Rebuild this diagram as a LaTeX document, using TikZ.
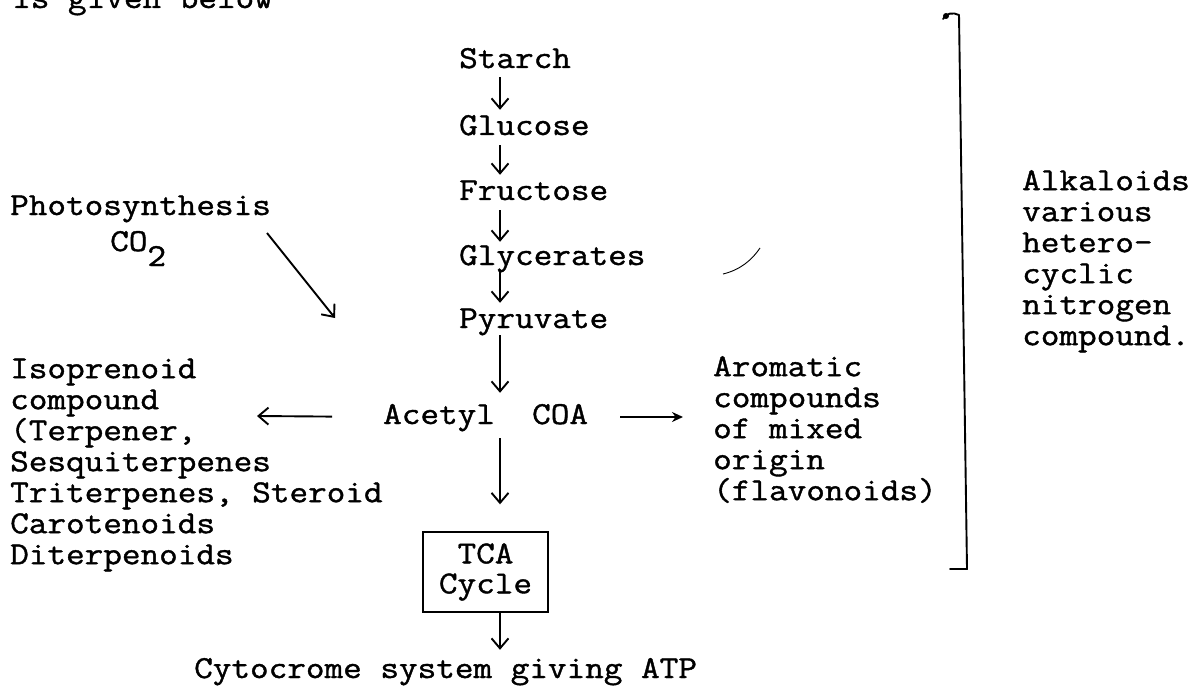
\documentclass[tikz,border=0pt]{standalone}
\usepackage{fontspec}
\setmonofont{Latin Modern Mono}[FakeStretch=1.13, FakeBold=1.2]
\usetikzlibrary{arrows.meta}
\begin{document}
\begin{tikzpicture}[x=1pt,y=-1pt,
  tw/.style={font=\ttfamily\fontsize{32}{31}\selectfont, inner sep=0pt, anchor=base west, text height=20pt, text depth=6pt},
  blk/.style={font=\ttfamily\fontsize{32}{31}\selectfont, inner sep=0pt, align=left, anchor=north west},
  arr/.style={line width=1.9pt, -{Straight Barb[length=10pt,width=17pt,line width=1.9pt]}},
  arrs/.style={line width=1.9pt, -{Stealth[length=11pt,width=10pt]}},
  brk/.style={line width=1.9pt, line cap=round, line join=round},
  box/.style={draw, line width=1.4pt, minimum width=125pt, minimum height=80pt, inner sep=0pt, align=center, font=\ttfamily\fontsize{32}{30}\selectfont}
]
\useasboundingbox (0,0) rectangle (1198,687);
\fill[white] (0,0) rectangle (1198,687);

% clipped heading line at the top
\begin{scope}
  \clip (0,0) rectangle (1198,687);
  \node[tw] (head) at (12,8) {is given below};
\end{scope}

% column for the main chain
\coordinate (col) at (500,0);

\node[tw] (starch) at (459,68) {Starch};
\node[tw] (glucose) at (459,135) {Glucose};
\node[tw] (fructose) at (459,200) {Fructose};
\node[tw] (glycer) at (459,265) {Glycerates};
\node[tw] (pyruv) at (459,328) {Pyruvate};
\node[tw] (acetyl) at (383,424) {Acetyl~~COA};

\node[tw] (photo) at (10,215) {Photosynthesis};
\node[tw] (co2) at (110,251) {CO\raisebox{-15pt}{2}};

\node[blk] (iso) at (10,358) {\rule{0pt}{20pt}Isoprenoid\\compound\\(Terpener,\\Sesquiterpenes\\Triterpenes, Steroid\\Carotenoids\\Diterpenoids};

\node[blk] (arom) at (713,356) {\rule{0pt}{20pt}Aromatic\\compounds\\of mixed\\origin\\(flavonoids)};

\node[blk] (alk) at (1022,170) {\rule{0pt}{20pt}Alkaloids\\various\\hetero-\\cyclic\\nitrogen\\compound.};

\node[box] (tca) at (485.5,572) {TCA\\Cycle};

\node[tw] (cyto) at (194,678) {Cytocrome system giving ATP};

% chain arrows
\draw[arr, shorten <=3pt, shorten >=5pt] (starch.south -| col) -- (glucose.north -| col);
\draw[arr, shorten <=4pt, shorten >=5pt] (glucose.south -| col) -- (fructose.north -| col);
\draw[arr, shorten <=4pt, shorten >=3pt] (fructose.south -| col) -- (glycer.north -| col);
\draw[arr, shorten <=0pt, shorten >=5pt] (glycer.south -| col) -- (pyruv.north -| col);
\draw[arr, shorten <=1pt, shorten >=11pt] (pyruv.south -| col) -- (acetyl.north -| col);
\draw[arr, shorten <=8pt, shorten >=27pt] (acetyl.south -| col) -- (tca.north -| col);
\draw[arr, shorten >=8pt] (tca.south -| col) -- (cyto.north -| col);

% side arrows
\coordinate (isoend) at (257,416);
\draw[arr, shorten <=51pt] (acetyl.west) -- (isoend);
\draw[arrs, shorten <=32pt, shorten >=30pt] (acetyl.east) -- (acetyl.east -| arom.west);

\coordinate (ps) at (267,233);
\coordinate (pe) at (335,318);
\draw[arr] (ps) -- (pe);

% bracket
\coordinate (bt) at (959,15);
\coordinate (bb) at (967,569);
\draw[brk] (943,19) .. controls (946,13) and (953,12) .. (bt) -- (bb) -- (950,569);
\fill (946,16) circle (3pt);

% stray pen mark
\draw[line width=0.9pt] (723,274) .. controls (740,270) and (752,260) .. (760,248);
\end{tikzpicture}
\end{document}
